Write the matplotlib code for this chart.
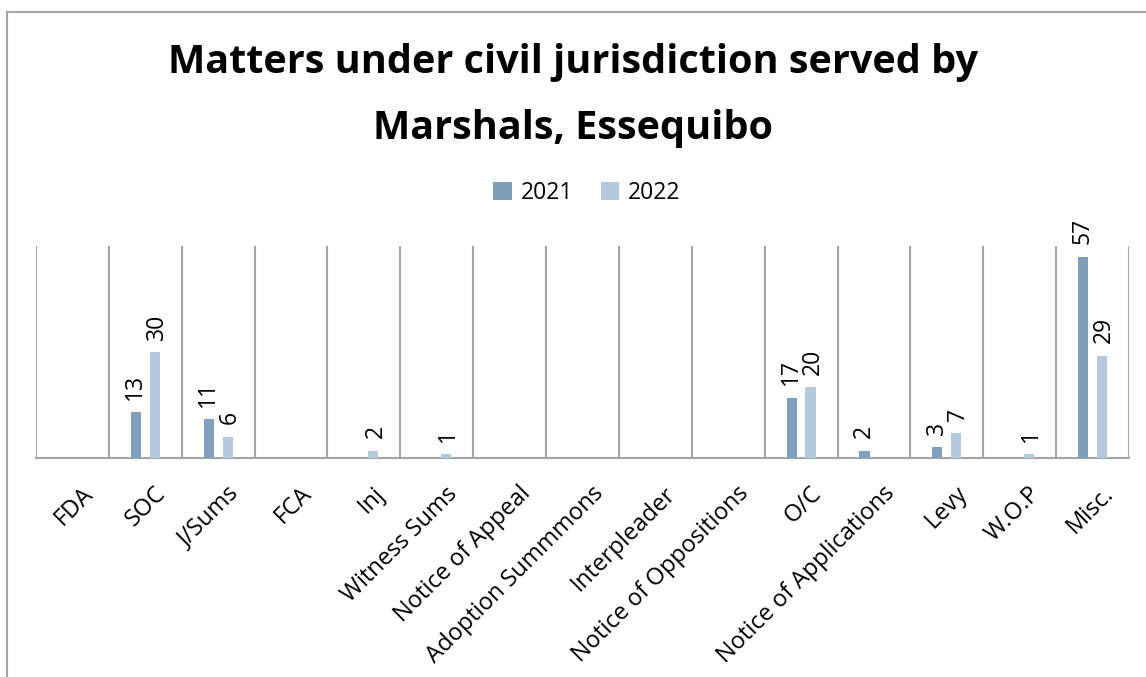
import matplotlib
matplotlib.use("Agg")
import matplotlib.pyplot as plt
import numpy as np
from matplotlib.patches import Rectangle

plt.rcParams['font.family'] = ['Open Sans', 'DejaVu Sans']

categories = ["FDA", "SOC", "J/Sums", "FCA", "Inj", "Witness Sums", "Notice of Appeal",
              "Adoption Summmons", "Interpleader", "Notice of Oppositions", "O/C",
              "Notice of Applications", "Levy", "W.O.P", "Misc."]
vals_2021 = [0, 13, 11, 0, 0, 0, 0, 0, 0, 0, 17, 2, 3, 0, 57]
vals_2022 = [0, 30, 6, 0, 2, 1, 0, 0, 0, 0, 20, 0, 7, 1, 29]

c2021 = "#819fba"
c2022 = "#b4c8de"
grid_c = "#a6a6a6"

W, H = 1146, 677
fig = plt.figure(figsize=(W / 100, H / 100), dpi=100)

# outer chart border (only top and left edges fall inside the image)
fig.patches.append(Rectangle((7 / W, -0.1), 1.2, (H - 12) / H + 0.1, transform=fig.transFigure,
                             fill=False, edgecolor=grid_c, linewidth=1.5))

ax = fig.add_axes([36 / W, (H - 458) / H, (1129 - 36) / W, (458 - 246) / H])

x = np.arange(len(categories))
bw = 0.14
off = 0.13
b1 = ax.bar(x - off, vals_2021, bw, color=c2021, label="2021", zorder=3)
b2 = ax.bar(x + off, vals_2022, bw, color=c2022, label="2022", zorder=3)

for bars, vals, dx in ((b1, vals_2021, -0.5), (b2, vals_2022, 1.5)):
    for rect, v in zip(bars, vals):
        if v == 0:
            continue
        ax.annotate(str(v), (rect.get_x() + rect.get_width() / 2, v), xytext=(dx, 9),
                    textcoords="offset points", rotation=90, ha="center", va="bottom",
                    fontsize=16.5)

ax.set_xlim(-0.5, len(categories) - 0.5)
ax.set_ylim(0, 60)
ax.set_yticks([])

# category separators
for b in np.arange(-0.5, len(categories), 1.0):
    ax.axvline(b, color=grid_c, linewidth=1.5, zorder=1)

for s in ("top", "right", "left"):
    ax.spines[s].set_visible(False)
ax.spines["bottom"].set_color(grid_c)
ax.spines["bottom"].set_linewidth(1.5)

ax.set_xticks(x + 0.12)
ax.set_xticklabels(categories, rotation=45, ha="right", va="top", rotation_mode="anchor",
                   fontsize=17)
ax.tick_params(axis="x", length=0, pad=17)

fig.text(0.5, (H - 63) / H, "Matters under civil jurisdiction served by", ha="center",
         va="center", fontsize=28.5, fontweight="bold")
fig.text(0.5, (H - 128) / H, "Marshals, Essequibo", ha="center", va="center",
         fontsize=28.5, fontweight="bold")

fig.legend(handles=[b1, b2], labels=["2021", "2022"], loc="center", ncol=2,
           bbox_to_anchor=(587 / W, (H - 193) / H), frameon=False, fontsize=16.5,
           handlelength=0.8, handleheight=0.8, handletextpad=0.4, columnspacing=1.2)

fig.savefig("out.png", dpi=100)
